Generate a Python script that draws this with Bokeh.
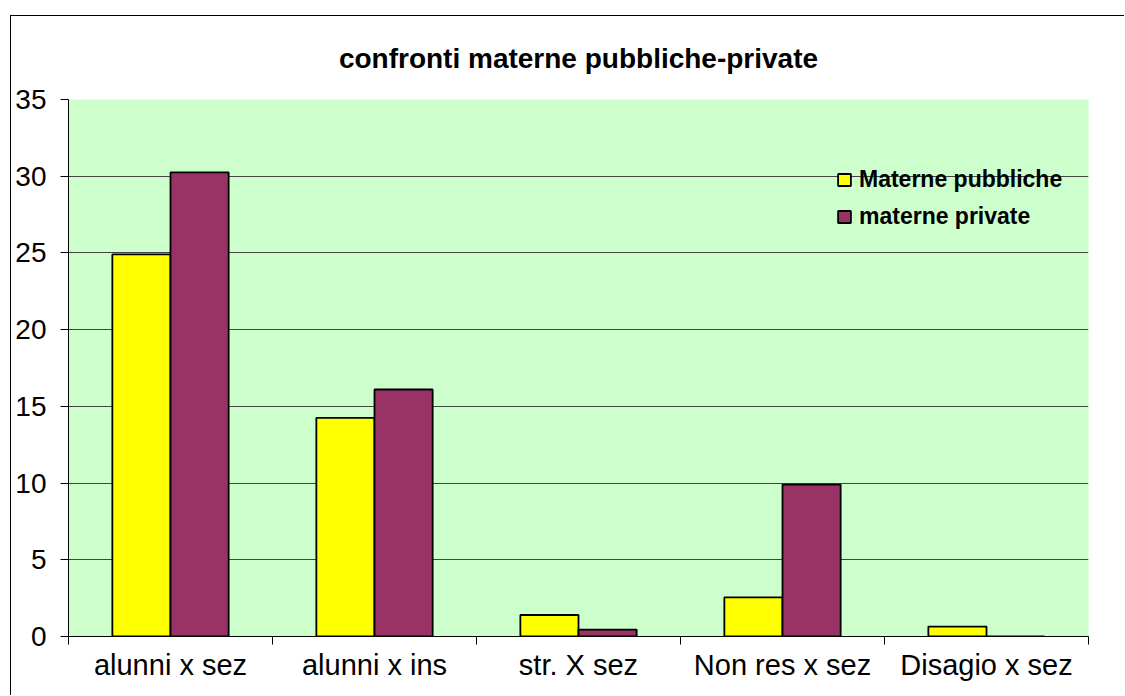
from bokeh.plotting import figure
from bokeh.models import (Range1d, LinearAxis, FixedTicker, ColumnDataSource, Legend, LegendItem)
from bokeh.transform import dodge
from bokeh.embed import file_html
from bokeh.resources import INLINE

# ---- data ----
categories = ["alunni x sez", "alunni x ins", "str. X sez", "Non res x sez", "Disagio x sez"]
pubbliche = [24.9, 14.25, 1.4, 2.55, 0.65]
private = [30.25, 16.1, 0.45, 9.9, 0.0]
series_names = ["Materne pubbliche", "materne private"]
y_ticks = [0, 5, 10, 15, 20, 25, 30, 35]
title_text = "confronti materne pubbliche-private"

FONT = "Liberation Sans"
n = len(categories)
centers = [i + 0.5 for i in range(n)]

src = ColumnDataSource(dict(cat=categories, xc=centers, pub=pubbliche, priv=private))

p = figure(
    width=1114, height=680,
    x_range=Range1d(0, n),
    y_range=Range1d(0, 35),
    x_axis_location=None, y_axis_location=None,
    output_backend="svg", toolbar_location=None,
    title=title_text,
    min_border_left=57, min_border_right=37,
    min_border_top=83, min_border_bottom=60,
)
# outer chart border (left and top edges visible, the rest is cut off)
p.styles = {"margin-left": "10px", "margin-top": "15px",
            "border-left": "1px solid #000", "border-top": "1px solid #000"}

p.background_fill_color = "#CCFFCC"
p.border_fill_color = "white"
p.outline_line_color = None

p.title.text_font = FONT
p.title.text_font_size = "28px"
p.title.text_font_style = "bold"
p.title.text_color = "black"
p.title.align = "center"
p.title.vertical_align = "middle"
p.title.standoff = 50

# y axis
yax = LinearAxis(ticker=FixedTicker(ticks=y_ticks))
yax.major_label_text_font = FONT
yax.major_label_text_font_size = "28px"
yax.major_label_text_color = "black"
yax.major_tick_out = 8
yax.major_tick_in = 0
yax.major_label_standoff = 14
yax.minor_tick_line_color = None
yax.axis_line_color = "black"
yax.major_tick_line_color = "black"
p.add_layout(yax, "left")

# boundary ticks axis
tax = LinearAxis(ticker=FixedTicker(ticks=list(range(n + 1))))
tax.major_label_text_font_size = "0px"
tax.major_label_text_color = None
tax.major_label_standoff = 0
tax.major_tick_out = 8
tax.major_tick_in = 0
tax.minor_tick_line_color = None
tax.axis_line_color = "black"
tax.major_tick_line_color = "black"
p.add_layout(tax, "below")

# category labels axis
cax = LinearAxis(ticker=FixedTicker(ticks=centers),
                 major_label_overrides={c: name for c, name in zip(centers, categories)})
cax.major_tick_line_color = None
cax.major_tick_out = 0
cax.major_tick_in = 0
cax.minor_tick_line_color = None
cax.axis_line_color = None
cax.major_label_text_font = FONT
cax.major_label_text_font_size = "29px"
cax.major_label_text_color = "black"
cax.major_label_standoff = 4
p.add_layout(cax, "below")

p.xgrid.visible = False
p.ygrid.ticker = FixedTicker(ticks=[5, 10, 15, 20, 25, 30])
p.ygrid.grid_line_color = "#444444"
p.ygrid.grid_line_width = 1

w = 0.285
r1 = p.vbar(x=dodge("xc", -w / 2), top="pub", width=w, source=src,
            fill_color="#FFFF00", line_color="black", line_width=1.8)
r2 = p.vbar(x=dodge("xc", w / 2), top="priv", width=w, source=src,
            fill_color="#993366", line_color="black", line_width=1.8)

legend = Legend(items=[LegendItem(label=series_names[0], renderers=[r1]),
                       LegendItem(label=series_names[1], renderers=[r2])],
                location=(768, 406))
legend.label_text_font = FONT
legend.label_text_font_size = "23px"
legend.label_text_font_style = "bold"
legend.label_text_color = "black"
legend.glyph_width = 16
legend.glyph_height = 15
legend.label_height = 25
legend.label_standoff = 7
legend.spacing = 10
legend.padding = 0
legend.margin = 0
legend.border_line_color = None
legend.background_fill_alpha = 0
p.add_layout(legend, "center")

open("out.html", "w").write(file_html(p, INLINE))
